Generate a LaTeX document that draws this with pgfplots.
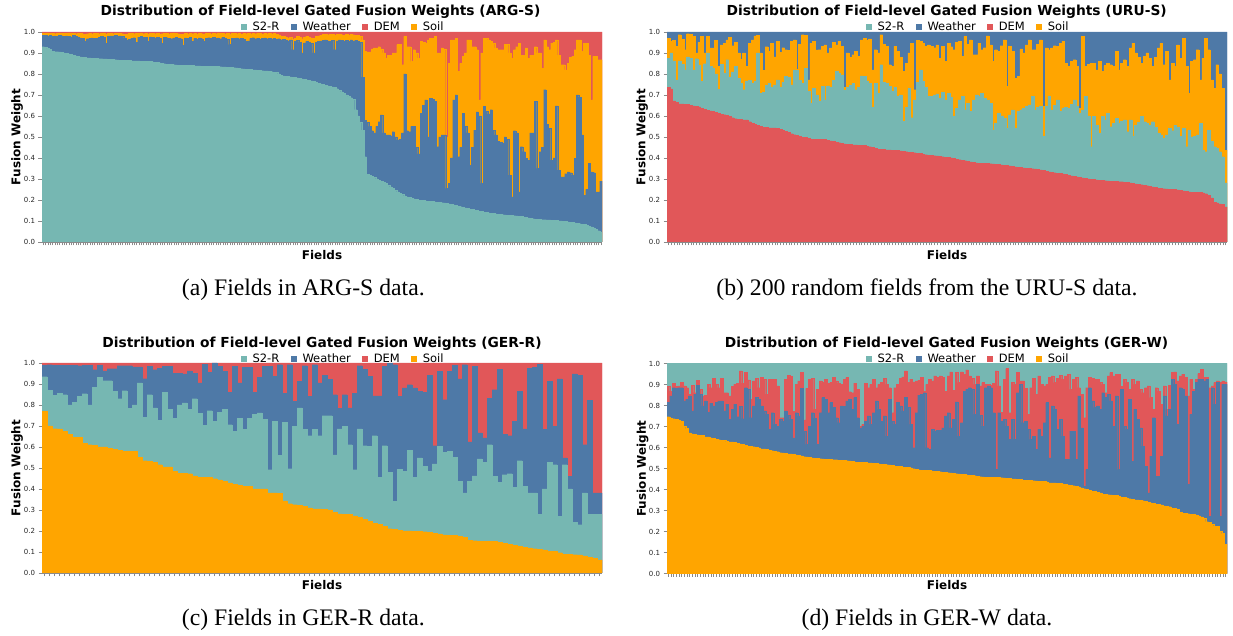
\documentclass[border=0pt]{standalone}
\usepackage{pgfplots}
\pgfplotsset{compat=1.18}
\usepackage{pgfplotstable}
\usepackage{fontspec}
\setmainfont{DejaVu Sans}
\newfontfamily\capfont{Liberation Serif}
\definecolor{cS}{HTML}{76B7B2}
\definecolor{cW}{HTML}{4E79A7}
\definecolor{cD}{HTML}{E15759}
\definecolor{cO}{HTML}{FFA500}
\definecolor{axg}{HTML}{8A8A8A}

% ARG-S: a = S2-R, b = +Weather, c = +Soil, t = +DEM (cumulative levels)
\pgfplotstableread[row sep=\\]{a b c t\\
0.930 0.984 0.995 1\\ 0.928 0.983 0.994 1\\ 0.922 0.981 0.996 1\\ 0.918 0.984 0.993 1\\ 0.907 0.980 0.995 1\\
0.906 0.982 0.992 1\\ 0.906 0.979 0.994 1\\ 0.905 0.983 0.996 1\\ 0.904 0.981 0.993 1\\ 0.900 0.978 0.995 1\\
0.898 0.982 0.994 1\\ 0.896 0.980 0.996 1\\ 0.893 0.977 0.993 1\\ 0.889 0.983 0.995 1\\ 0.886 0.979 0.992 1\\
0.884 0.975 0.994 1\\ 0.882 0.972 0.993 1\\ 0.879 0.970 0.991 1\\ 0.878 0.955 0.990 1\\ 0.877 0.968 0.992 1\\
0.877 0.970 0.994 1\\ 0.876 0.972 0.991 1\\ 0.875 0.969 0.993 1\\ 0.874 0.971 0.995 1\\ 0.873 0.974 0.992 1\\
0.873 0.978 0.994 1\\ 0.872 0.976 0.996 1\\ 0.872 0.947 0.990 1\\ 0.871 0.980 0.993 1\\ 0.871 0.982 0.995 1\\
0.869 0.981 0.992 1\\ 0.868 0.983 0.994 1\\ 0.867 0.979 0.993 1\\ 0.866 0.981 0.995 1\\ 0.866 0.978 0.992 1\\
0.865 0.972 0.990 1\\ 0.865 0.962 0.991 1\\ 0.864 0.965 0.993 1\\ 0.863 0.970 0.994 1\\ 0.863 0.973 0.992 1\\
0.862 0.950 0.995 1\\ 0.862 0.975 0.993 1\\ 0.861 0.978 0.996 1\\ 0.861 0.974 0.992 1\\ 0.860 0.976 0.994 1\\
0.860 0.955 0.991 1\\ 0.859 0.977 0.995 1\\ 0.858 0.974 0.993 1\\ 0.857 0.972 0.992 1\\ 0.855 0.975 0.994 1\\
0.853 0.971 0.990 1\\ 0.851 0.947 0.992 1\\ 0.849 0.976 0.995 1\\ 0.847 0.973 0.993 1\\ 0.846 0.970 0.991 1\\
0.845 0.968 0.994 1\\ 0.844 0.972 0.996 1\\ 0.843 0.975 0.993 1\\ 0.842 0.970 0.992 1\\ 0.842 0.968 0.990 1\\
0.841 0.936 0.989 1\\ 0.841 0.972 0.994 1\\ 0.840 0.969 0.991 1\\ 0.840 0.974 0.995 1\\ 0.840 0.955 0.992 1\\
0.839 0.970 0.993 1\\ 0.839 0.966 0.990 1\\ 0.839 0.972 0.994 1\\ 0.838 0.968 0.992 1\\ 0.838 0.955 0.991 1\\
0.837 0.971 0.995 1\\ 0.837 0.973 0.993 1\\ 0.837 0.969 0.990 1\\ 0.836 0.975 0.994 1\\ 0.836 0.970 0.992 1\\
0.836 0.972 0.996 1\\ 0.835 0.968 0.993 1\\ 0.834 0.974 0.995 1\\ 0.834 0.970 0.991 1\\ 0.833 0.966 0.994 1\\
0.832 0.940 0.990 1\\ 0.831 0.971 0.993 1\\ 0.830 0.969 0.995 1\\ 0.829 0.972 0.992 1\\ 0.827 0.968 0.994 1\\
0.825 0.970 0.990 1\\ 0.824 0.966 0.993 1\\ 0.823 0.955 0.992 1\\ 0.822 0.958 0.995 1\\ 0.821 0.970 0.991 1\\
0.820 0.973 0.994 1\\ 0.819 0.968 0.992 1\\ 0.818 0.971 0.996 1\\ 0.817 0.966 0.993 1\\ 0.816 0.970 0.990 1\\
0.815 0.972 0.994 1\\ 0.815 0.968 0.992 1\\ 0.813 0.971 0.995 1\\ 0.811 0.967 0.991 1\\ 0.809 0.969 0.993 1\\
0.807 0.965 0.990 1\\ 0.800 0.968 0.985 1\\ 0.795 0.962 0.980 1\\ 0.791 0.966 0.978 1\\ 0.789 0.960 0.975 1\\
0.788 0.958 0.972 1\\ 0.786 0.963 0.976 1\\ 0.785 0.916 0.965 1\\ 0.783 0.955 0.970 1\\ 0.782 0.960 0.978 1\\
0.779 0.950 0.974 1\\ 0.777 0.900 0.968 1\\ 0.775 0.948 0.975 1\\ 0.772 0.955 0.980 1\\ 0.770 0.952 0.976 1\\
0.767 0.945 0.972 1\\ 0.764 0.900 0.970 1\\ 0.760 0.950 0.978 1\\ 0.756 0.955 0.982 1\\ 0.753 0.958 0.985 1\\
0.750 0.960 0.988 1\\ 0.747 0.962 0.990 1\\ 0.744 0.958 0.987 1\\ 0.741 0.955 0.989 1\\ 0.739 0.960 0.990 1\\
0.737 0.916 0.985 1\\ 0.730 0.958 0.988 1\\ 0.722 0.962 0.990 1\\ 0.715 0.960 0.987 1\\ 0.709 0.955 0.985 1\\
0.700 0.960 0.988 1\\ 0.694 0.955 0.986 1\\ 0.687 0.962 0.990 1\\ 0.680 0.958 0.987 1\\ 0.630 0.960 0.985 1\\
0.600 0.955 0.983 1\\ 0.570 0.950 0.980 1\\ 0.533 0.785 0.963 1\\ 0.406 0.580 0.907 1\\ 0.323 0.570 0.905 1\\
0.318 0.550 0.905 1\\ 0.314 0.530 0.920 1\\ 0.308 0.520 0.924 1\\ 0.300 0.550 0.924 1\\ 0.295 0.573 0.930 1\\
0.290 0.605 0.920 1\\ 0.285 0.520 0.900 1\\ 0.278 0.510 0.876 1\\ 0.270 0.510 0.890 1\\ 0.263 0.505 0.890 1\\
0.255 0.525 0.900 1\\ 0.247 0.500 0.900 1\\ 0.239 0.486 0.940 1\\ 0.232 0.490 0.940 1\\ 0.226 0.520 0.844 1\\
0.220 0.800 0.979 1\\ 0.215 0.530 0.930 1\\ 0.212 0.525 0.930 1\\ 0.208 0.550 0.860 1\\ 0.205 0.550 0.916 1\\
0.202 0.450 0.900 1\\ 0.199 0.420 0.876 1\\ 0.198 0.613 0.955 1\\ 0.197 0.650 0.950 1\\ 0.196 0.677 0.947 1\\
0.195 0.500 0.963 1\\ 0.194 0.685 0.971 1\\ 0.193 0.680 0.971 1\\ 0.191 0.670 0.979 1\\ 0.190 0.454 0.900 1\\
0.188 0.500 0.900 1\\ 0.187 0.510 0.924 1\\ 0.186 0.510 0.920 1\\ 0.184 0.255 0.500 1\\ 0.182 0.279 0.850 1\\
0.180 0.400 0.963 1\\ 0.177 0.677 0.963 1\\ 0.174 0.700 0.971 1\\ 0.171 0.406 0.812 1\\ 0.168 0.450 0.850 1\\
0.165 0.613 0.884 1\\ 0.162 0.550 0.900 1\\ 0.159 0.520 0.963 1\\ 0.157 0.366 0.963 1\\ 0.155 0.450 0.930 1\\
0.152 0.533 0.930 1\\ 0.150 0.620 0.916 1\\ 0.147 0.600 0.677 1\\ 0.145 0.279 0.900 1\\ 0.142 0.645 0.971 1\\
0.141 0.621 0.971 1\\ 0.139 0.610 0.963 1\\ 0.137 0.630 0.955 1\\ 0.136 0.533 0.947 1\\ 0.134 0.510 0.924 1\\
0.133 0.478 0.916 1\\ 0.131 0.475 0.916 1\\ 0.130 0.470 0.916 1\\ 0.129 0.500 0.940 1\\ 0.128 0.490 0.940 1\\
0.127 0.318 0.900 1\\ 0.126 0.215 0.876 1\\ 0.125 0.530 0.916 1\\ 0.124 0.520 0.930 1\\ 0.123 0.239 0.947 1\\
0.121 0.454 0.890 1\\ 0.119 0.430 0.890 1\\ 0.117 0.398 0.924 1\\ 0.115 0.390 0.876 1\\ 0.113 0.520 0.890 1\\
0.111 0.520 0.890 1\\ 0.108 0.669 0.930 1\\ 0.107 0.350 0.900 1\\ 0.107 0.430 0.900 1\\ 0.106 0.450 0.828 1\\
0.106 0.725 0.963 1\\ 0.105 0.560 0.930 1\\ 0.105 0.540 0.916 1\\ 0.104 0.390 0.947 1\\ 0.103 0.400 0.950 1\\
0.102 0.648 0.963 1\\ 0.101 0.342 0.890 1\\ 0.100 0.310 0.844 1\\ 0.099 0.310 0.844 1\\ 0.098 0.325 0.820 1\\
0.096 0.334 0.850 1\\ 0.095 0.330 0.880 1\\ 0.093 0.318 0.884 1\\ 0.091 0.398 0.916 1\\ 0.089 0.700 0.963 1\\
0.087 0.690 0.963 1\\ 0.085 0.510 0.908 1\\ 0.083 0.223 0.947 1\\ 0.080 0.250 0.947 1\\ 0.076 0.374 0.890 1\\
0.072 0.334 0.677 1\\ 0.067 0.330 0.884 1\\ 0.060 0.239 0.884 1\\ 0.054 0.239 0.868 1\\ 0.048 0.290 0.868 1\\
}\tabA

% URU-S: a = DEM, b = +S2-R, c = +Soil, t = +Weather
\pgfplotstableread[row sep=\\]{a b c t\\
0.737 0.876 0.971 1\\ 0.729 0.900 0.955 1\\ 0.672 0.863 0.960 1\\ 0.665 0.772 0.932 1\\ 0.658 0.863 0.987 1\\
0.658 0.845 0.965 1\\ 0.657 0.820 0.916 1\\ 0.656 0.881 0.992 1\\ 0.652 0.876 0.990 1\\ 0.648 0.820 0.979 1\\
0.645 0.873 0.900 1\\ 0.643 0.840 0.950 1\\ 0.638 0.764 0.979 1\\ 0.632 0.849 0.900 1\\ 0.628 0.900 0.979 1\\
0.624 0.836 0.924 1\\ 0.622 0.828 0.924 1\\ 0.619 0.800 0.960 1\\ 0.614 0.728 0.836 1\\ 0.609 0.847 0.939 1\\
0.606 0.804 0.947 1\\ 0.602 0.868 0.963 1\\ 0.597 0.785 0.976 1\\ 0.592 0.810 0.935 1\\ 0.587 0.836 0.951 1\\
0.585 0.780 0.900 1\\ 0.583 0.756 0.871 1\\ 0.582 0.725 0.900 1\\ 0.581 0.764 0.836 1\\ 0.573 0.770 0.945 1\\
0.566 0.756 0.963 1\\ 0.561 0.764 0.982 1\\ 0.555 0.900 0.984 1\\ 0.551 0.709 0.900 1\\ 0.547 0.712 0.817 1\\
0.545 0.745 0.930 1\\ 0.544 0.756 0.908 1\\ 0.544 0.737 0.947 1\\ 0.543 0.748 0.881 1\\ 0.541 0.772 0.955 1\\
0.536 0.737 0.903 1\\ 0.533 0.760 0.925 1\\ 0.528 0.788 0.916 1\\ 0.522 0.785 0.912 1\\ 0.516 0.748 0.955 1\\
0.511 0.820 0.963 1\\ 0.507 0.817 0.823 1\\ 0.502 0.770 0.940 1\\ 0.499 0.756 0.987 1\\ 0.497 0.828 0.984 1\\
0.493 0.717 0.772 1\\ 0.490 0.661 0.947 1\\ 0.490 0.732 0.955 1\\ 0.490 0.700 0.915 1\\ 0.489 0.669 0.916 1\\
0.489 0.740 0.932 1\\ 0.489 0.677 0.939 1\\ 0.485 0.744 0.900 1\\ 0.481 0.737 0.924 1\\ 0.478 0.770 0.950 1\\
0.476 0.812 0.939 1\\ 0.473 0.804 0.955 1\\ 0.470 0.796 0.932 1\\ 0.467 0.721 0.737 1\\ 0.465 0.737 0.900 1\\
0.464 0.745 0.880 1\\ 0.463 0.756 0.892 1\\ 0.462 0.725 0.908 1\\ 0.461 0.737 0.884 1\\ 0.460 0.791 0.963 1\\
0.459 0.788 0.971 1\\ 0.457 0.765 0.960 1\\ 0.454 0.756 0.967 1\\ 0.450 0.642 0.820 1\\ 0.446 0.756 0.916 1\\
0.442 0.709 0.900 1\\ 0.441 0.844 0.987 1\\ 0.440 0.760 0.940 1\\ 0.439 0.756 0.932 1\\ 0.439 0.740 0.844 1\\
0.438 0.717 0.836 1\\ 0.437 0.737 0.932 1\\ 0.436 0.693 0.908 1\\ 0.434 0.700 0.880 1\\ 0.433 0.576 0.812 1\\
0.430 0.642 0.852 1\\ 0.427 0.732 0.900 1\\ 0.426 0.592 0.947 1\\ 0.425 0.677 0.725 1\\ 0.423 0.760 0.960 1\\
0.421 0.820 0.955 1\\ 0.419 0.764 0.947 1\\ 0.416 0.737 0.932 1\\ 0.414 0.693 0.939 1\\ 0.412 0.693 0.932 1\\
0.411 0.700 0.925 1\\ 0.410 0.705 0.939 1\\ 0.408 0.685 0.876 1\\ 0.406 0.712 0.932 1\\ 0.404 0.677 0.860 1\\
0.402 0.709 0.947 1\\ 0.401 0.690 0.930 1\\ 0.398 0.597 0.916 1\\ 0.395 0.637 0.951 1\\ 0.392 0.677 0.955 1\\
0.390 0.693 0.884 1\\ 0.387 0.629 0.979 1\\ 0.384 0.660 0.940 1\\ 0.381 0.621 0.963 1\\ 0.378 0.677 0.892 1\\
0.377 0.701 0.892 1\\ 0.376 0.693 0.947 1\\ 0.375 0.709 0.916 1\\ 0.375 0.685 0.925 1\\ 0.374 0.677 0.982 1\\
0.373 0.661 0.939 1\\ 0.372 0.533 0.860 1\\ 0.370 0.565 0.916 1\\ 0.369 0.613 0.908 1\\ 0.367 0.600 0.935 1\\
0.366 0.589 0.963 1\\ 0.364 0.541 0.740 1\\ 0.362 0.605 0.932 1\\ 0.360 0.629 0.908 1\\ 0.358 0.541 0.780 1\\
0.356 0.621 0.788 1\\ 0.355 0.630 0.920 1\\ 0.353 0.637 0.900 1\\ 0.352 0.645 0.939 1\\ 0.351 0.653 0.963 1\\
0.349 0.693 0.916 1\\ 0.348 0.629 0.916 1\\ 0.347 0.640 0.940 1\\ 0.344 0.645 0.963 1\\ 0.340 0.502 0.645 1\\
0.336 0.645 0.924 1\\ 0.334 0.693 0.916 1\\ 0.332 0.629 0.924 1\\ 0.330 0.650 0.935 1\\ 0.328 0.677 0.932 1\\
0.326 0.621 0.947 1\\ 0.324 0.637 0.955 1\\ 0.321 0.642 0.852 1\\ 0.318 0.637 0.836 1\\ 0.315 0.655 0.860 1\\
0.313 0.677 0.868 1\\ 0.310 0.645 0.836 1\\ 0.307 0.613 0.637 1\\ 0.305 0.629 0.979 1\\ 0.303 0.693 0.836 1\\
0.301 0.600 0.845 1\\ 0.299 0.454 0.852 1\\ 0.298 0.597 0.852 1\\ 0.296 0.557 0.820 1\\ 0.295 0.518 0.860 1\\
0.293 0.597 0.812 1\\ 0.292 0.580 0.840 1\\ 0.291 0.613 0.852 1\\ 0.290 0.549 0.844 1\\ 0.289 0.565 0.836 1\\
0.288 0.589 0.908 1\\ 0.287 0.565 0.820 1\\ 0.287 0.575 0.850 1\\ 0.285 0.581 0.868 1\\ 0.283 0.525 0.836 1\\
0.281 0.581 0.924 1\\ 0.279 0.502 0.947 1\\ 0.277 0.557 0.900 1\\ 0.275 0.570 0.880 1\\ 0.273 0.597 0.852 1\\
0.270 0.573 0.884 1\\ 0.268 0.565 0.900 1\\ 0.266 0.557 0.876 1\\ 0.263 0.573 0.836 1\\ 0.260 0.545 0.880 1\\
0.257 0.518 0.924 1\\ 0.255 0.510 0.947 1\\ 0.254 0.494 0.844 1\\ 0.253 0.510 0.908 1\\ 0.252 0.541 0.772 1\\
0.251 0.530 0.850 1\\ 0.250 0.557 0.836 1\\ 0.248 0.545 0.939 1\\ 0.246 0.502 0.876 1\\ 0.243 0.541 0.971 1\\
0.240 0.454 0.836 1\\ 0.239 0.533 0.709 1\\ 0.238 0.500 0.860 1\\ 0.237 0.502 0.868 1\\ 0.237 0.510 0.916 1\\
0.236 0.565 0.772 1\\ 0.234 0.438 0.876 1\\ 0.230 0.430 0.971 1\\ 0.223 0.533 0.916 1\\ 0.210 0.478 0.772 1\\
0.190 0.454 0.732 1\\ 0.186 0.446 0.844 1\\ 0.182 0.430 0.800 1\\ 0.180 0.406 0.732 1\\ 0.167 0.282 0.438 1\\
}\tabB

% GER-R: a = Soil, b = +S2-R, c = +Weather, t = +DEM
\pgfplotstableread[row sep=\\]{a b c t\\
0.770 0.935 0.989 1\\ 0.700 0.870 0.992 1\\ 0.687 0.845 0.990 1\\ 0.686 0.857 0.990 1\\ 0.675 0.849 0.990 1\\
0.659 0.800 0.990 1\\ 0.646 0.813 0.988 1\\ 0.646 0.841 0.987 1\\ 0.619 0.854 0.990 1\\ 0.611 0.800 0.990 1\\
0.608 0.884 0.968 1\\ 0.600 0.932 0.989 1\\ 0.600 0.916 0.963 1\\ 0.595 0.916 0.973 1\\ 0.590 0.865 0.973 1\\
0.584 0.830 0.987 1\\ 0.580 0.868 0.987 1\\ 0.579 0.783 0.987 1\\ 0.578 0.800 0.981 1\\ 0.550 0.905 0.981 1\\
0.535 0.741 0.925 1\\ 0.532 0.849 0.984 1\\ 0.527 0.786 0.968 1\\ 0.516 0.727 0.976 1\\ 0.505 0.860 0.984 1\\
0.505 0.778 0.984 1\\ 0.484 0.738 0.952 1\\ 0.476 0.800 0.952 1\\ 0.474 0.810 0.948 1\\ 0.473 0.778 0.963 1\\
0.463 0.830 0.952 1\\ 0.456 0.759 0.905 1\\ 0.456 0.702 0.995 1\\ 0.455 0.773 0.956 1\\ 0.449 0.722 1.000 1\\
0.444 0.765 0.984 1\\ 0.437 0.778 0.960 1\\ 0.429 0.706 0.860 1\\ 0.421 0.675 0.984 1\\ 0.417 0.738 0.905 1\\
0.413 0.683 0.980 1\\ 0.412 0.738 0.980 1\\ 0.400 0.757 0.860 1\\ 0.400 0.762 0.932 1\\ 0.400 0.733 0.984 1\\
0.382 0.492 0.984 1\\ 0.381 0.722 0.937 1\\ 0.380 0.559 0.992 1\\ 0.343 0.717 0.857 1\\ 0.330 0.497 0.992 1\\
0.325 0.698 0.817 1\\ 0.323 0.786 0.913 1\\ 0.318 0.683 0.987 1\\ 0.310 0.654 0.841 1\\ 0.305 0.683 0.992 1\\
0.305 0.654 0.905 1\\ 0.303 0.749 0.940 1\\ 0.300 0.749 0.921 1\\ 0.290 0.563 0.849 1\\ 0.282 0.686 0.783 1\\
0.278 0.698 0.849 1\\ 0.278 0.611 0.786 1\\ 0.272 0.492 0.857 1\\ 0.265 0.686 0.987 1\\ 0.255 0.606 0.971 1\\
0.245 0.603 0.937 1\\ 0.238 0.654 0.844 1\\ 0.232 0.456 0.844 1\\ 0.222 0.606 0.984 1\\ 0.211 0.479 0.997 1\\
0.208 0.341 0.992 1\\ 0.202 0.495 0.841 1\\ 0.200 0.484 0.881 1\\ 0.200 0.583 0.897 1\\ 0.199 0.456 0.881 1\\
0.198 0.548 0.865 1\\ 0.197 0.508 0.860 1\\ 0.193 0.484 0.940 1\\ 0.189 0.520 0.606 1\\ 0.186 0.603 0.960 1\\
0.182 0.576 0.825 1\\ 0.178 0.579 0.960 1\\ 0.178 0.552 0.989 1\\ 0.175 0.437 0.924 1\\ 0.170 0.381 0.992 1\\
0.155 0.437 0.624 1\\ 0.154 0.463 0.984 1\\ 0.151 0.543 0.667 1\\ 0.151 0.527 0.643 1\\ 0.151 0.611 0.833 1\\
0.150 0.460 0.873 1\\ 0.145 0.432 0.971 1\\ 0.142 0.468 0.659 1\\ 0.137 0.473 0.654 1\\ 0.132 0.408 0.722 1\\
0.127 0.535 0.865 1\\ 0.122 0.413 0.686 1\\ 0.120 0.381 0.976 1\\ 0.116 0.381 0.979 1\\ 0.113 0.278 0.995 1\\
0.110 0.400 0.683 1\\ 0.103 0.527 0.913 1\\ 0.102 0.516 0.698 1\\ 0.097 0.270 0.924 1\\ 0.090 0.516 0.548 1\\
0.089 0.400 0.460 1\\ 0.087 0.241 0.948 1\\ 0.086 0.230 0.941 1\\ 0.082 0.381 0.611 1\\ 0.075 0.278 0.821 1\\
0.070 0.278 0.381 1\\ 0.063 0.278 0.381 1\\
}\tabC

% GER-W: a = Soil, b = +Weather, c = +DEM, t = +S2-R
\pgfplotstableread[row sep=\\]{a b c t\\
0.747 0.814 0.890 1\\ 0.740 0.846 0.869 1\\ 0.737 0.885 0.906 1\\ 0.734 0.881 0.890 1\\ 0.730 0.885 0.893 1\\
0.726 0.885 0.909 1\\ 0.702 0.822 0.893 1\\ 0.690 0.830 0.885 1\\ 0.670 0.846 0.854 1\\ 0.665 0.774 0.896 1\\
0.662 0.854 0.861 1\\ 0.660 0.896 0.920 1\\ 0.658 0.854 0.877 1\\ 0.657 0.798 0.846 1\\ 0.651 0.822 0.849 1\\
0.650 0.769 0.901 1\\ 0.646 0.811 0.885 1\\ 0.645 0.798 0.928 1\\ 0.639 0.814 0.901 1\\ 0.637 0.822 0.885 1\\
0.634 0.822 0.928 1\\ 0.633 0.774 0.861 1\\ 0.628 0.806 0.861 1\\ 0.627 0.734 0.846 1\\ 0.627 0.782 0.890 1\\
0.625 0.806 0.901 1\\ 0.619 0.747 0.906 1\\ 0.617 0.795 0.965 1\\ 0.615 0.737 0.906 1\\ 0.610 0.885 0.957 1\\
0.607 0.877 0.922 1\\ 0.606 0.742 0.830 1\\ 0.604 0.798 0.917 1\\ 0.602 0.838 0.928 1\\ 0.598 0.830 0.885 1\\
0.594 0.798 0.933 1\\ 0.593 0.774 0.925 1\\ 0.590 0.758 0.854 1\\ 0.588 0.686 0.925 1\\ 0.585 0.766 0.925 1\\
0.583 0.710 0.925 1\\ 0.580 0.702 0.893 1\\ 0.575 0.734 0.742 1\\ 0.574 0.726 0.742 1\\ 0.572 0.774 0.925 1\\
0.570 0.753 0.944 1\\ 0.570 0.734 0.938 1\\ 0.568 0.646 0.771 1\\ 0.565 0.766 0.901 1\\ 0.562 0.750 0.917 1\\
0.560 0.881 0.957 1\\ 0.556 0.678 0.731 1\\ 0.555 0.615 0.881 1\\ 0.554 0.702 0.925 1\\ 0.550 0.766 0.928 1\\
0.548 0.740 0.782 1\\ 0.548 0.615 0.877 1\\ 0.547 0.766 0.917 1\\ 0.546 0.838 0.909 1\\ 0.544 0.830 0.925 1\\
0.543 0.766 0.906 1\\ 0.543 0.814 0.909 1\\ 0.542 0.790 0.933 1\\ 0.542 0.742 0.917 1\\ 0.540 0.718 0.906 1\\
0.538 0.798 0.901 1\\ 0.538 0.795 0.925 1\\ 0.537 0.822 0.933 1\\ 0.536 0.830 0.866 1\\ 0.533 0.782 0.861 1\\
0.531 0.838 0.906 1\\ 0.530 0.742 0.877 1\\ 0.530 0.694 0.702 1\\ 0.529 0.700 0.710 1\\ 0.528 0.726 0.906 1\\
0.527 0.750 0.885 1\\ 0.527 0.710 0.901 1\\ 0.526 0.766 0.925 1\\ 0.525 0.822 0.885 1\\ 0.522 0.782 0.901 1\\
0.520 0.726 0.909 1\\ 0.519 0.750 0.928 1\\ 0.518 0.654 0.901 1\\ 0.517 0.830 0.885 1\\ 0.514 0.726 0.766 1\\
0.511 0.710 0.885 1\\ 0.510 0.814 0.901 1\\ 0.509 0.798 0.928 1\\ 0.507 0.774 0.936 1\\ 0.506 0.838 0.965 1\\
0.505 0.790 0.909 1\\ 0.503 0.710 0.925 1\\ 0.499 0.599 0.912 1\\ 0.497 0.766 0.917 1\\ 0.494 0.849 0.920 1\\
0.492 0.854 0.933 1\\ 0.491 0.861 0.869 1\\ 0.490 0.599 0.901 1\\ 0.490 0.591 0.925 1\\ 0.489 0.686 0.917 1\\
0.488 0.678 0.941 1\\ 0.487 0.682 0.933 1\\ 0.485 0.682 0.941 1\\ 0.482 0.694 0.933 1\\ 0.481 0.750 0.869 1\\
0.480 0.766 0.941 1\\ 0.479 0.694 0.960 1\\ 0.476 0.734 0.873 1\\ 0.475 0.817 0.957 1\\ 0.474 0.654 0.909 1\\
0.472 0.718 0.960 1\\ 0.471 0.869 0.949 1\\ 0.470 0.877 0.970 1\\ 0.469 0.885 0.941 1\\ 0.468 0.877 0.928 1\\
0.466 0.758 0.901 1\\ 0.463 0.901 0.941 1\\ 0.461 0.753 0.893 1\\ 0.460 0.702 0.909 1\\ 0.459 0.885 0.901 1\\
0.459 0.893 0.901 1\\ 0.458 0.885 0.896 1\\ 0.458 0.766 0.906 1\\ 0.457 0.495 0.965 1\\ 0.457 0.766 0.893 1\\
0.456 0.726 0.769 1\\ 0.455 0.734 0.925 1\\ 0.452 0.702 0.976 1\\ 0.452 0.639 0.766 1\\ 0.451 0.734 0.909 1\\
0.450 0.639 0.901 1\\ 0.449 0.861 0.957 1\\ 0.448 0.901 0.917 1\\ 0.445 0.718 0.917 1\\ 0.444 0.726 0.881 1\\
0.444 0.686 0.758 1\\ 0.443 0.639 0.885 1\\ 0.442 0.654 0.930 1\\ 0.441 0.591 0.854 1\\ 0.439 0.686 0.941 1\\
0.439 0.654 0.901 1\\ 0.438 0.718 0.893 1\\ 0.436 0.814 0.901 1\\ 0.432 0.551 0.933 1\\ 0.432 0.798 0.941 1\\
0.431 0.782 0.909 1\\ 0.430 0.686 0.928 1\\ 0.429 0.734 0.944 1\\ 0.427 0.654 0.925 1\\ 0.426 0.543 0.941 1\\
0.422 0.543 0.949 1\\ 0.419 0.678 0.877 1\\ 0.418 0.678 0.925 1\\ 0.416 0.543 0.933 1\\ 0.413 0.846 0.885 1\\
0.408 0.694 0.854 1\\ 0.404 0.416 0.742 1\\ 0.400 0.495 0.885 1\\ 0.397 0.885 0.933 1\\ 0.392 0.822 0.928 1\\
0.391 0.790 0.925 1\\ 0.388 0.798 0.925 1\\ 0.384 0.782 0.909 1\\ 0.378 0.861 0.901 1\\ 0.376 0.838 0.861 1\\
0.375 0.854 0.941 1\\ 0.374 0.822 0.957 1\\ 0.373 0.702 0.941 1\\ 0.371 0.846 0.949 1\\ 0.368 0.495 0.949 1\\
0.364 0.877 0.890 1\\ 0.363 0.702 0.925 1\\ 0.360 0.686 0.909 1\\ 0.356 0.830 0.877 1\\ 0.352 0.535 0.925 1\\
0.351 0.782 0.901 1\\ 0.350 0.734 0.917 1\\ 0.349 0.694 0.877 1\\ 0.347 0.607 0.861 1\\ 0.344 0.511 0.885 1\\
0.338 0.384 0.893 1\\ 0.336 0.559 0.838 1\\ 0.335 0.742 0.782 1\\ 0.330 0.463 0.885 1\\ 0.328 0.463 0.869 1\\
0.327 0.559 0.806 1\\ 0.322 0.846 0.893 1\\ 0.320 0.750 0.782 1\\ 0.318 0.782 0.896 1\\ 0.311 0.925 0.957 1\\
0.309 0.901 0.960 1\\ 0.305 0.710 0.917 1\\ 0.290 0.885 0.941 1\\ 0.288 0.877 0.949 1\\ 0.287 0.846 0.933 1\\
0.285 0.424 0.846 1\\ 0.283 0.758 0.925 1\\ 0.282 0.869 0.877 1\\ 0.279 0.909 0.925 1\\ 0.274 0.925 0.952 1\\
0.270 0.925 0.973 1\\ 0.262 0.917 0.933 1\\ 0.247 0.925 0.933 1\\ 0.244 0.272 0.885 1\\ 0.233 0.885 0.893 1\\
0.226 0.806 0.909 1\\ 0.224 0.909 0.917 1\\ 0.200 0.272 0.909 1\\ 0.190 0.901 0.917 1\\ 0.140 0.901 0.912 1\\
}\tabD

\pgfplotsset{
  fw/.style={
    scale only axis, width=560pt, height=210pt, anchor=south west,
    ymin=0, ymax=1,
    ybar, bar width=1, bar shift=0pt,
    axis x line*=bottom, axis y line*=left,
    axis line style={-, draw=axg, line width=0.7pt},
    tick align=outside, major tick length=3.5pt,
    tick style={draw=axg, line width=0.6pt},
    xticklabels={},
    xticklabel style={text opacity=0},
    ytick={0,0.1,0.2,0.3,0.4,0.5,0.6,0.7,0.8,0.9,1},
    yticklabel style={font=\fontsize{7}{8}\selectfont, text=black!85,
      /pgf/number format/fixed, /pgf/number format/fixed zerofill,
      /pgf/number format/precision=1, /pgf/number format/assume math mode=true},
    every axis plot/.append style={line width=0.25pt},
  },
}
\newcommand{\fwlgitem}[3]{\fill[#1] (#2,0.7pt) rectangle ++(6pt,6pt);
  \node[anchor=base west, inner sep=0pt, font=\fontsize{11.5}{13}\selectfont] at (#2+11.6pt,0pt) {#3};}
\newcommand{\fwlegend}[2]{\begin{scope}[shift={(#1,#2)}]
  \fwlgitem{cS}{198.7pt}{S2-R}\fwlgitem{cW}{248.7pt}{Weather}\fwlgitem{cD}{320pt}{DEM}\fwlgitem{cO}{369pt}{Soil}
  \end{scope}}
\newcommand{\fwttl}[3]{\node[anchor=base, inner sep=0pt, font=\fontsize{13.8}{16}\selectfont\bfseries] at (#1,#2) {#3};}
\newcommand{\fwylab}[2]{\node[rotate=90, inner sep=0pt, font=\fontsize{12}{14}\selectfont\bfseries] at (#1,#2) {Fusion Weight};}
\newcommand{\fwxlab}[2]{\node[anchor=base, inner sep=0pt, font=\fontsize{12}{14}\selectfont\bfseries] at (#1,#2) {Fields};}
\newcommand{\fwcap}[3]{\node[anchor=base, inner sep=0pt, font=\capfont\fontsize{23.7}{28}\selectfont] at (#1,#2) {#3};}

\begin{document}
\begin{tikzpicture}
\path[use as bounding box] (0,0) rectangle (1233pt,636pt);

% (a) ARG-S
\begin{axis}[fw, at={(42pt,394pt)}, xmin=-0.5, xmax=239.5, xtick={0,...,239}]
\addplot[fill=cD, draw=cD] table[x expr=\coordindex, y=t] {\tabA};
\addplot[fill=cO, draw=cO] table[x expr=\coordindex, y=c] {\tabA};
\addplot[fill=cW, draw=cW] table[x expr=\coordindex, y=b] {\tabA};
\addplot[fill=cS, draw=cS] table[x expr=\coordindex, y=a] {\tabA};
\end{axis}

% (b) URU-S
\begin{axis}[fw, at={(667pt,394pt)}, xmin=-0.5, xmax=199.5, xtick={0,...,199}]
\addplot[fill=cW, draw=cW] table[x expr=\coordindex, y=t] {\tabB};
\addplot[fill=cO, draw=cO] table[x expr=\coordindex, y=c] {\tabB};
\addplot[fill=cS, draw=cS] table[x expr=\coordindex, y=b] {\tabB};
\addplot[fill=cD, draw=cD] table[x expr=\coordindex, y=a] {\tabB};
\end{axis}

% (c) GER-R
\begin{axis}[fw, at={(42pt,63pt)}, xmin=-0.5, xmax=111.5, xtick={0,...,111}]
\addplot[fill=cD, draw=cD] table[x expr=\coordindex, y=t] {\tabC};
\addplot[fill=cW, draw=cW] table[x expr=\coordindex, y=c] {\tabC};
\addplot[fill=cS, draw=cS] table[x expr=\coordindex, y=b] {\tabC};
\addplot[fill=cO, draw=cO] table[x expr=\coordindex, y=a] {\tabC};
\end{axis}

% (d) GER-W
\begin{axis}[fw, at={(667pt,62.5pt)}, xmin=-0.5, xmax=209.5, xtick={0,...,209}]
\addplot[fill=cS, draw=cS] table[x expr=\coordindex, y=t] {\tabD};
\addplot[fill=cD, draw=cD] table[x expr=\coordindex, y=c] {\tabD};
\addplot[fill=cW, draw=cW] table[x expr=\coordindex, y=b] {\tabD};
\addplot[fill=cO, draw=cO] table[x expr=\coordindex, y=a] {\tabD};
\end{axis}

\fwttl{320.5pt}{620pt}{Distribution of Field-level Gated Fusion Weights (ARG-S)}
\fwttl{946.7pt}{620pt}{Distribution of Field-level Gated Fusion Weights (URU-S)}
\fwttl{322pt}{288.7pt}{Distribution of Field-level Gated Fusion Weights (GER-R)}
\fwttl{946.5pt}{288.7pt}{Distribution of Field-level Gated Fusion Weights (GER-W)}

\fwlegend{42pt}{605.3pt}
\fwlegend{667pt}{605.3pt}
\fwlegend{42pt}{273.7pt}
\fwlegend{667pt}{273.2pt}

\fwylab{17pt}{499pt}
\fwylab{642pt}{499pt}
\fwylab{17pt}{168pt}
\fwylab{642.5pt}{167.5pt}

\fwxlab{322pt}{376.7pt}
\fwxlab{947pt}{376.7pt}
\fwxlab{322pt}{46pt}
\fwxlab{947pt}{46pt}

\fwcap{303.3pt}{340.7pt}{(a) Fields in ARG-S data.}
\fwcap{927pt}{340.7pt}{(b) 200 random fields from the URU-S data.}
\fwcap{303.3pt}{10.7pt}{(c) Fields in GER-R data.}
\fwcap{927pt}{10.7pt}{(d) Fields in GER-W data.}
\end{tikzpicture}
\end{document}
